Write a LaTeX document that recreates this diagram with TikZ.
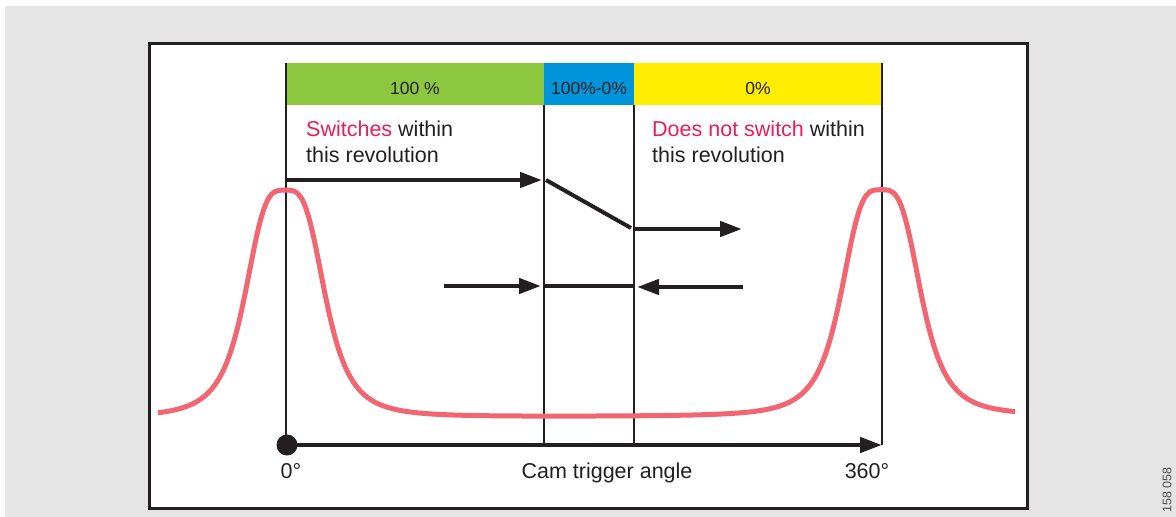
\documentclass[tikz,border=0pt]{standalone}
\usepackage{fontspec}
\setmainfont{Liberation Sans}
\usetikzlibrary{arrows.meta}
\definecolor{bg}{HTML}{E5E5E5}
\definecolor{ink}{HTML}{231F20}
\definecolor{cgreen}{HTML}{8DC63F}
\definecolor{cblue}{HTML}{0095DA}
\definecolor{cyellow}{HTML}{FFED00}
\definecolor{cpink}{HTML}{EC1C5B}
\definecolor{ccurve}{HTML}{F16670}
\begin{document}
\begin{tikzpicture}[x=1pt,y=-1pt,
  declare function={pk(\t,\c,\w)=1/(1+exp(3.5*ln(max(min(abs(\t-\c)/\w,10),0.01))));},
  bar/.style={anchor=north west, minimum height=42pt, inner sep=0pt},
  barlbl/.style={anchor=base, inner sep=0pt, text=ink, font=\fontsize{17.5}{20}\selectfont},
  lbl/.style={anchor=base west, inner sep=0pt, text=ink, font=\fontsize{21.5}{25}\selectfont},
  axlbl/.style={anchor=base, inner sep=0pt, text=ink, font=\fontsize{21.5}{25}\selectfont},
  vline/.style={ink, line width=2pt},
  arr/.style={ink, line width=4.5pt, -{Triangle[length=22pt,width=15pt]}},
  seg/.style={ink, line width=4pt},
  curve/.style={ccurve, line width=5pt, line join=round}]
\useasboundingbox (0,0) rectangle (1176,517);
\fill[bg] (5,6) rectangle (1176,517);
\draw[ink, line width=3pt, fill=white] (149,43) rectangle (1027,508);
% colour bars
\node[bar, fill=cgreen, minimum width=258pt] (g) at (286,63) {};
\node[bar, fill=cblue, minimum width=90pt] (b) at (544,63) {};
\node[bar, fill=cyellow, minimum width=249pt] (yl) at (634,63) {};
\node[barlbl] (gl) at (415,94) {100 \%};
\node[barlbl] (bl) at (589,94) {100\%-0\%};
\node[barlbl] (yll) at (758,94) {0\%};
% coordinates
\coordinate (t0) at (286,63);
\coordinate (t1) at (544,105);
\coordinate (t2) at (634,105);
\coordinate (t3) at (882,63);
\coordinate (a0) at (286,445);
\coordinate (a1) at (544,445);
\coordinate (a2) at (634,445);
\coordinate (a3) at (882,445);
\draw[vline] (t0) -- (a0);
\draw[vline] (t1) -- (a1);
\draw[vline] (t2) -- (a2);
\draw[vline] (t3) -- (a3);
% texts
\node[lbl] (s1) at (306,136) {\textcolor{cpink}{Switches} within};
\node[lbl] (s2) at (306,162) {this revolution};
\node[lbl] (d1) at (652,136) {\textcolor{cpink}{Does not switch} within};
\node[lbl] (d2) at (652,162) {this revolution};
% red curve
\draw[curve] plot[domain=158:1015, samples=400, variable=\x]
  ({\x},{417.5-2*(\x-158)/857-227*pk(\x,285,42)-226*pk(\x,881,42)});
% arrows
\coordinate (p1) at (286,180);
\coordinate (p2) at (542,180);
\coordinate (p3) at (546,180);
\coordinate (p4) at (631,228);
\coordinate (p5) at (634,229);
\coordinate (p6) at (742,229);
\draw[arr] (p1) -- (p2);
\draw[seg] (p3) -- (p4);
\draw[arr] (p5) -- (p6);
\coordinate (q1) at (444,286);
\coordinate (q2) at (541,286);
\coordinate (q3) at (544,286);
\coordinate (q4) at (634,286);
\coordinate (q5) at (743,287);
\coordinate (q6) at (637,287);
\draw[arr] (q1) -- (q2);
\draw[seg] (q3) -- (q4);
\draw[arr] (q5) -- (q6);
% axis
\node[circle, fill=ink, minimum size=21pt, inner sep=0pt] (dot) at (287,445) {};
\draw[arr] (dot.center) -- (a3);
\node[axlbl] (l0) at (291,478) {0°};
\node[axlbl] (lc) at (607,478) {Cam trigger angle};
\node[axlbl] (l360) at (867,478) {360°};
\node[rotate=90, inner sep=0pt, text=ink!80, font=\fontsize{12.5}{14}\selectfont] (num) at (1167,490) {158 058};
\end{tikzpicture}
\end{document}
